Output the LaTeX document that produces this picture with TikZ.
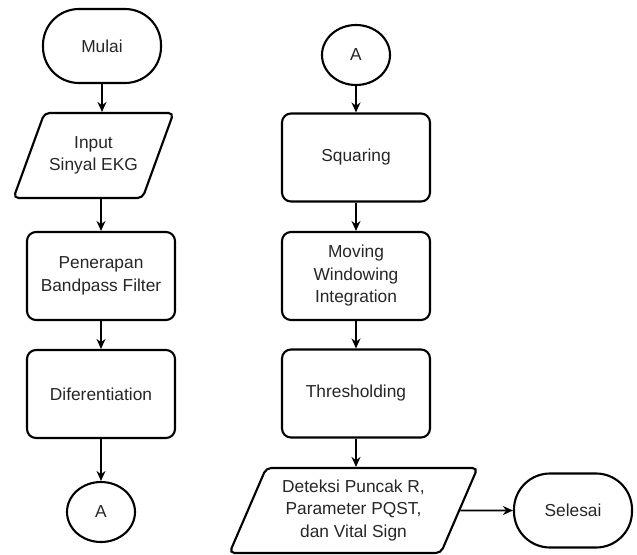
\documentclass[tikz,border=0pt]{standalone}
\usepackage{fontspec}
\setmainfont{Liberation Sans}
\usetikzlibrary{shapes.geometric,arrows.meta,positioning}
\tikzset{
    every node/.style={font=\fontsize{14.8}{19.2}\selectfont,text=black!85,align=center},
    proses/.style={draw,line width=1.8pt,rounded corners=0.27cm,minimum width=4.44cm,minimum height=2.64cm},
    terminal/.style={draw,line width=1.8pt,rounded corners=1.08cm,minimum width=3.54cm,minimum height=2.22cm},
    io/.style={draw,line width=1.8pt,trapezium,trapezium left angle=#1,trapezium right angle=180-#1,
        trapezium stretches body,rounded corners=0.15cm,minimum height=2.55cm},
    konektor/.style={draw,line width=1.8pt,ellipse,minimum width=2.04cm,minimum height=1.8cm,inner sep=0pt},
    alur/.style={line width=1.3pt,-{Stealth[length=0.3cm,width=0.27cm]}}
}

\begin{document}
\begin{tikzpicture}[x=0.03cm,y=-0.03cm]
        \useasboundingbox (0,0) rectangle (637,555);

        % kolom kiri
        \node[terminal] (mulai) at (102,46) {Mulai};
        \node[io=56,minimum width=4.8cm] (inp) at (93.5,155.5) {Input\\Sinyal EKG};
        \node[proses] (bpf) at (101,276) {Penerapan\\Bandpass Filter};
        \node[proses] (dif) at (101,394) {Diferentiation};
        \node[konektor] (A1) at (101,512) {A};

        % kolom kanan
        \node[konektor] (A2) at (356,55) {A};
        \node[proses] (sqr) at (356,157.5) {Squaring};
        \node[proses] (mwi) at (356,276) {Moving\\Windowing\\Integration};
        \node[proses] (thr) at (356,393.5) {Thresholding};
        \node[io=62,minimum width=7.44cm] (det) at (353.5,510.5) {Deteksi Puncak R,\\Parameter PQST,\\dan Vital Sign};
        \node[terminal] (selesai) at (573,510.5) {Selesai};

        \draw[alur] (mulai) -- (mulai |- inp.north);
        \draw[alur] (bpf.north |- inp.south) -- (bpf);
        \draw[alur] (bpf) -- (dif);
        \draw[alur] (dif) -- (A1);

        \draw[alur] (A2) -- (sqr);
        \draw[alur] (sqr) -- (mwi);
        \draw[alur] (mwi) -- (thr);
        \draw[alur] (thr.south) -- (thr.south |- det.north);
        \draw[alur] (det.east) -- (selesai);
    \end{tikzpicture}
\end{document}
